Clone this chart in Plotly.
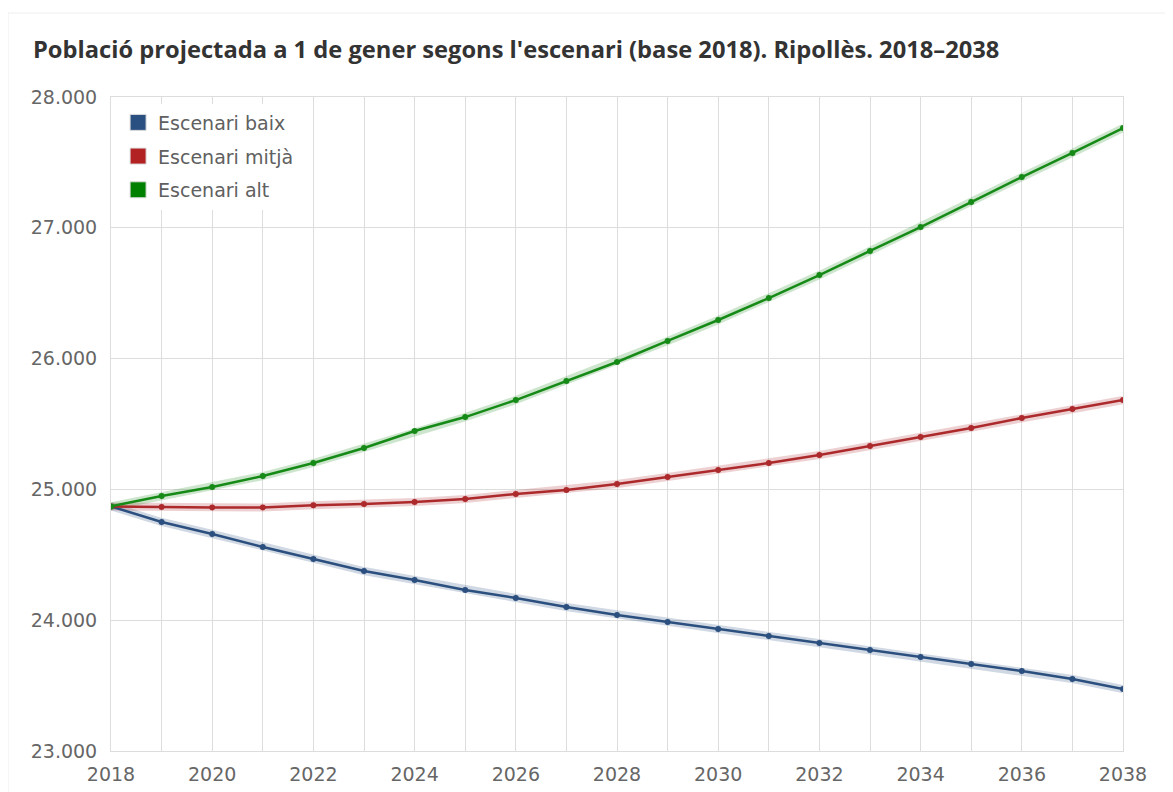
import plotly.graph_objects as go

years = list(range(2018, 2039))
baix = [24870, 24751, 24659, 24560, 24468, 24376, 24307, 24231, 24170, 24101, 24040,
        23986, 23933, 23879, 23826, 23772, 23719, 23665, 23612, 23550, 23474]
mitja = [24870, 24865, 24862, 24862, 24878, 24888, 24904, 24927, 24965, 24995, 25041,
         25095, 25148, 25202, 25263, 25332, 25401, 25469, 25546, 25615, 25683]
alt = [24870, 24950, 25018, 25102, 25202, 25317, 25446, 25553, 25683, 25829, 25974,
       26135, 26295, 26463, 26639, 26823, 27006, 27197, 27388, 27572, 27763]
names = ["Escenari baix", "Escenari mitjà", "Escenari alt"]
colors = ["#2b4f7e", "#ad2a2c", "#168a16"]
glow = ["rgba(43,79,126,0.22)", "rgba(173,42,44,0.22)", "rgba(22,138,22,0.22)"]
legend_colors = ["#2a5081", "#b22222", "#008000"]
series = [baix, mitja, alt]

W, H = 1165, 784  # page body has an 8px margin
fig = go.Figure()
for s, c, g in zip(series, colors, glow):
    fig.add_trace(go.Scatter(x=years, y=s, mode="lines", line=dict(color=g, width=8),
                             showlegend=False, hoverinfo="skip"))
for s, c, n in zip(series, colors, names):
    fig.add_trace(go.Scatter(x=years, y=s, mode="lines+markers", name=n,
                             line=dict(color=c, width=2.5),
                             marker=dict(color=c, size=6), showlegend=False))
for i, (n, c) in enumerate(zip(names, legend_colors)):
    fig.add_trace(go.Scatter(x=[None], y=[None], mode="markers", name=n,
                             legendgroup=f"g{i}",
                             marker=dict(symbol="square", size=18, color=c,
                                         line=dict(color="#dddddd", width=1))))

fig.update_layout(
    width=W, height=H,
    margin=dict(l=103, r=50, t=89, b=41),
    paper_bgcolor="white", plot_bgcolor="white",
    separators=",.",
    title=dict(text="<b>Població projectada a 1 de gener segons l'escenari (base 2018). Ripollès. 2018–2038</b>",
               x=25 / W, xanchor="left", y=1 - 42 / H, yanchor="middle",
               font=dict(family="Open Sans", size=23.7, color="#333333")),
    legend=dict(x=0.007, y=0.99, xanchor="left", yanchor="top",
                bgcolor="white", bordercolor="rgba(0,0,0,0)", borderwidth=0,
                font=dict(family="DejaVu Sans", size=19, color="#606060"),
                itemsizing="trace", tracegroupgap=6),
    showlegend=True,
    xaxis=dict(range=[2018, 2038], dtick=2, tick0=2018, showgrid=True,
               gridcolor="#dddddd", gridwidth=1, automargin=False,
               minor=dict(dtick=1, showgrid=True, gridcolor="#dddddd", gridwidth=1),
               showline=True, linecolor="#dddddd", mirror=True, zeroline=False,
               ticks="", ticklabelstandoff=6,
               tickfont=dict(family="DejaVu Sans", size=19, color="#666666")),
    yaxis=dict(range=[23000, 28000], dtick=1000, showgrid=True, gridcolor="#dddddd",
               gridwidth=1, tickformat=",d", showline=True, linecolor="#dddddd",
               mirror=True, zeroline=False, ticks="", ticklabelstandoff=9,
               automargin=False,
               tickfont=dict(family="DejaVu Sans", size=19, color="#666666")),
    shapes=[dict(type="rect", xref="paper", yref="paper",
                 x0=(8 - 111) / 1012, x1=(1180 - 111) / 1012,
                 y0=(751 - 800) / 654, y1=(751 - 13) / 654,
                 line=dict(color="#eeeeee", width=1), fillcolor="rgba(0,0,0,0)",
                 layer="below")],
)

fig.write_html("out.html")
